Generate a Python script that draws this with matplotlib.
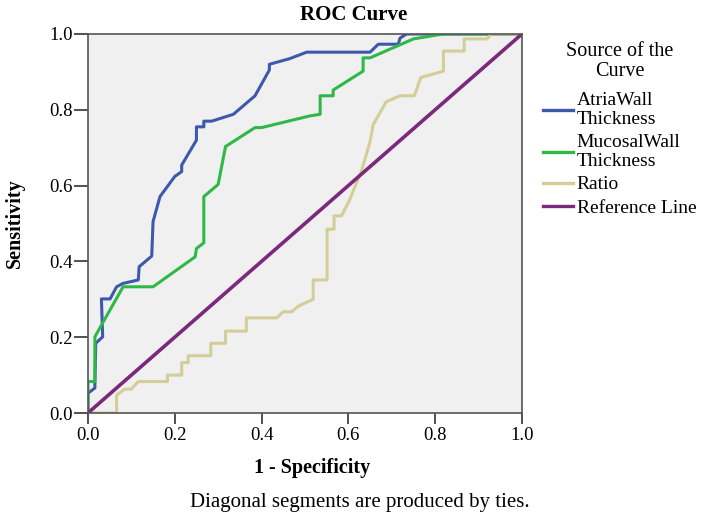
import numpy as np
import matplotlib.pyplot as plt

plt.rcParams['font.family'] = ['Liberation Serif', 'DejaVu Serif']

# curve points (1 - specificity, sensitivity)
atria_x = [0, 0.0, 0.016, 0.016, 0.018, 0.034, 0.031, 0.051, 0.066, 0.081, 0.116, 0.118,
           0.147, 0.150, 0.166, 0.200, 0.216, 0.216, 0.250, 0.250, 0.267, 0.267, 0.285,
           0.335, 0.385, 0.418, 0.418, 0.465, 0.504, 0.650, 0.669, 0.715, 0.719, 0.734, 1.0]
atria_y = [0, 0.052, 0.066, 0.08, 0.184, 0.201, 0.301, 0.301, 0.333, 0.342, 0.351, 0.386,
           0.414, 0.505, 0.571, 0.624, 0.637, 0.654, 0.720, 0.755, 0.755, 0.770, 0.770,
           0.788, 0.837, 0.905, 0.920, 0.935, 0.952, 0.952, 0.973, 0.973, 0.989, 1.0, 1.0]

mucosal_x = [0, 0, 0.016, 0.016, 0.04, 0.081, 0.150, 0.247, 0.250, 0.267, 0.267, 0.300,
             0.317, 0.385, 0.400, 0.512, 0.535, 0.535, 0.565, 0.565, 0.634, 0.634, 0.650,
             0.750, 0.819, 1.0]
mucosal_y = [0, 0.083, 0.083, 0.201, 0.25, 0.333, 0.333, 0.412, 0.434, 0.449, 0.571, 0.603,
             0.703, 0.753, 0.753, 0.784, 0.788, 0.837, 0.837, 0.852, 0.902, 0.937, 0.937,
             0.987, 1.0, 1.0]

ratio_x = [0, 0.066, 0.066, 0.085, 0.100, 0.116, 0.183, 0.183, 0.216, 0.216, 0.231, 0.231,
           0.283, 0.283, 0.317, 0.317, 0.365, 0.365, 0.435, 0.450, 0.469, 0.485, 0.519,
           0.519, 0.551, 0.551, 0.567, 0.567, 0.584, 0.602, 0.631, 0.650, 0.657, 0.687,
           0.719, 0.752, 0.767, 0.819, 0.819, 0.867, 0.867, 0.919, 0.930, 1.0]
ratio_y = [0, 0, 0.047, 0.063, 0.063, 0.083, 0.083, 0.100, 0.100, 0.133, 0.133, 0.151,
           0.151, 0.184, 0.184, 0.216, 0.216, 0.251, 0.251, 0.267, 0.267, 0.282, 0.300,
           0.351, 0.351, 0.485, 0.485, 0.520, 0.520, 0.560, 0.641, 0.716, 0.760, 0.821,
           0.837, 0.837, 0.885, 0.902, 0.955, 0.955, 0.987, 0.987, 1.0, 1.0]

ref_x = [0, 1]
ref_y = [0, 1]

fig = plt.figure(figsize=(7.15, 5.18), dpi=100)
ax = fig.add_axes([0.123, 0.2027, 0.607, 0.7317])
ax.set_facecolor('#F0F0F0')

ax.plot(atria_x, atria_y, color='#3E58AC', lw=2.2, label='AtriaWall\nThickness')
ax.plot(mucosal_x, mucosal_y, color='#2EB848', lw=2.2, label='MucosalWall\nThickness')
ax.plot(ratio_x, ratio_y, color='#D3CE97', lw=2.2, label='Ratio')
ax.plot(ref_x, ref_y, color='#7C287D', lw=2.6, label='Reference Line')

ax.set_xlim(0, 1)
ax.set_ylim(0, 1)
ticks = [0.0, 0.2, 0.4, 0.6, 0.8, 1.0]
ax.set_xticks(ticks)
ax.set_yticks(ticks)
ax.set_xticklabels(['%.1f' % t for t in ticks], fontsize=13.5)
ax.set_yticklabels(['%.1f' % t for t in ticks], fontsize=13.5)
ax.tick_params(axis='x', direction='out', length=8, width=1.2, color='#333333', pad=2)
ax.tick_params(axis='y', direction='out', length=10, width=1.2, color='#333333', pad=1)
for s in ax.spines.values():
    s.set_color('#555555')
    s.set_linewidth(1.2)

fig.text(0.494, 0.971, 'ROC Curve', fontsize=15, fontweight='bold', ha='center', va='center')
ax.set_xlabel('1 - Specificity', fontsize=14.5, fontweight='bold')
ax.xaxis.set_label_coords(0.516, -0.118)
ax.set_ylabel('Sensitivity', fontsize=14.5, fontweight='bold')
ax.yaxis.set_label_coords(-0.145, 0.5)

leg = ax.legend(title='Source of the\nCurve', loc='upper left', bbox_to_anchor=(1.048, 0.978),
                frameon=False, fontsize=14, title_fontsize=14.5, handlelength=1.55,
                handletextpad=0.2, labelspacing=0.3, borderaxespad=0, borderpad=0)
for t in leg.get_texts():
    t.set_linespacing(1.15)
leg.get_title().set_linespacing(1.05)
leg.get_title().set_multialignment('center')
leg._legend_box.sep = 8
for h in leg.legend_handles:
    h.set_linewidth(2.4)

fig.text(0.503, 0.029, 'Diagonal segments are produced by ties.', fontsize=15,
         ha='center', va='center')

fig.savefig('out.png', dpi=100)
